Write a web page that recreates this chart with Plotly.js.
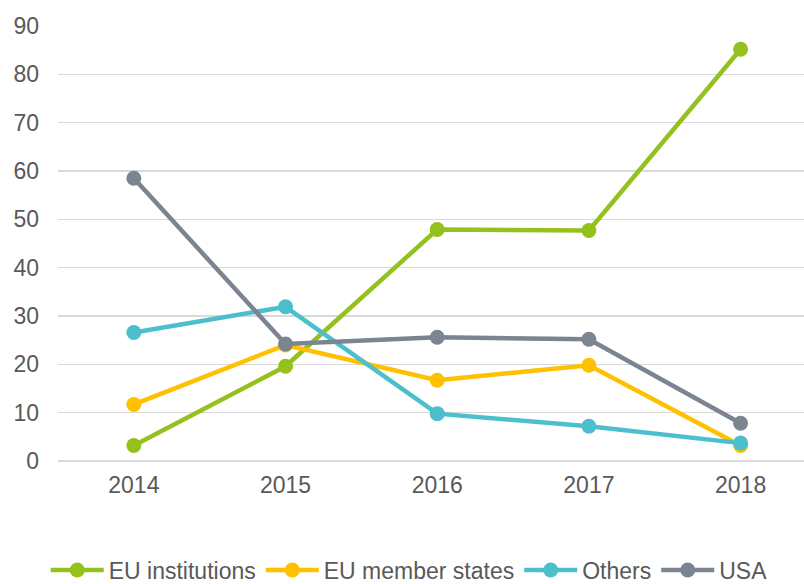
<!DOCTYPE html>
<html>
<head>
<meta charset="utf-8">
<script src="https://cdn.plot.ly/plotly-3.0.1.min.js"></script>
<style>
  html, body { margin: 0; padding: 0; background: #fff; }
  #chart { width: 804px; height: 584px; }
</style>
</head>
<body>
<div id="chart"></div>
<script>
const years = ['2014', '2015', '2016', '2017', '2018'];
const euInstitutions = [3.2, 19.6, 47.9, 47.7, 85.2];
const euMemberStates = [11.7, 24.0, 16.7, 19.8, 3.2];
const others = [26.6, 31.9, 9.8, 7.2, 3.7];
const usa = [58.5, 24.2, 25.6, 25.2, 7.8];
const seriesNames = ['EU institutions', 'EU member states', 'Others', 'USA'];
const yTicks = [0, 10, 20, 30, 40, 50, 60, 70, 80, 90];

const colors = ['#95C11F', '#FFC000', '#4BBFCC', '#7B8491'];
const seriesValues = [euInstitutions, euMemberStates, others, usa];

const traces = seriesValues.map((vals, i) => ({
  type: 'scatter',
  mode: 'lines+markers',
  name: seriesNames[i],
  x: years,
  y: vals,
  line: { color: colors[i], width: 4.5 },
  marker: { color: colors[i], size: 15 },
  cliponaxis: false
}));

const font = { family: '"Liberation Sans", Arial, sans-serif', size: 23, color: '#595959' };

const layout = {
  width: 804,
  height: 584,
  margin: { l: 58, r: 0, t: 26, b: 123.4 },
  paper_bgcolor: '#ffffff',
  plot_bgcolor: '#ffffff',
  font: font,
  showlegend: true,
  legend: {
    orientation: 'h',
    xref: 'container',
    yref: 'container',
    x: 0.509,
    xanchor: 'center',
    y: 0.024,
    yanchor: 'middle',
    font: font,
    itemwidth: 53,
    traceorder: 'normal'
  },
  xaxis: {
    type: 'category',
    range: [-0.5, 4.418],
    showgrid: false,
    zeroline: false,
    showline: false,
    ticks: '',
    tickfont: font,
    ticklabelstandoff: 8,
    fixedrange: true
  },
  yaxis: {
    range: [0, 90],
    tickvals: yTicks,
    ticktext: yTicks.map(String),
    showgrid: true,
    gridcolor: '#d9d9d9',
    gridwidth: 1.5,
    zeroline: true,
    zerolinecolor: '#d9d9d9',
    zerolinewidth: 1.5,
    showline: false,
    ticks: '',
    tickfont: font,
    ticklabelstandoff: 18,
    fixedrange: true
  }
};

Plotly.newPlot('chart', traces, layout, { displayModeBar: false, staticPlot: true });
</script>
</body>
</html>
